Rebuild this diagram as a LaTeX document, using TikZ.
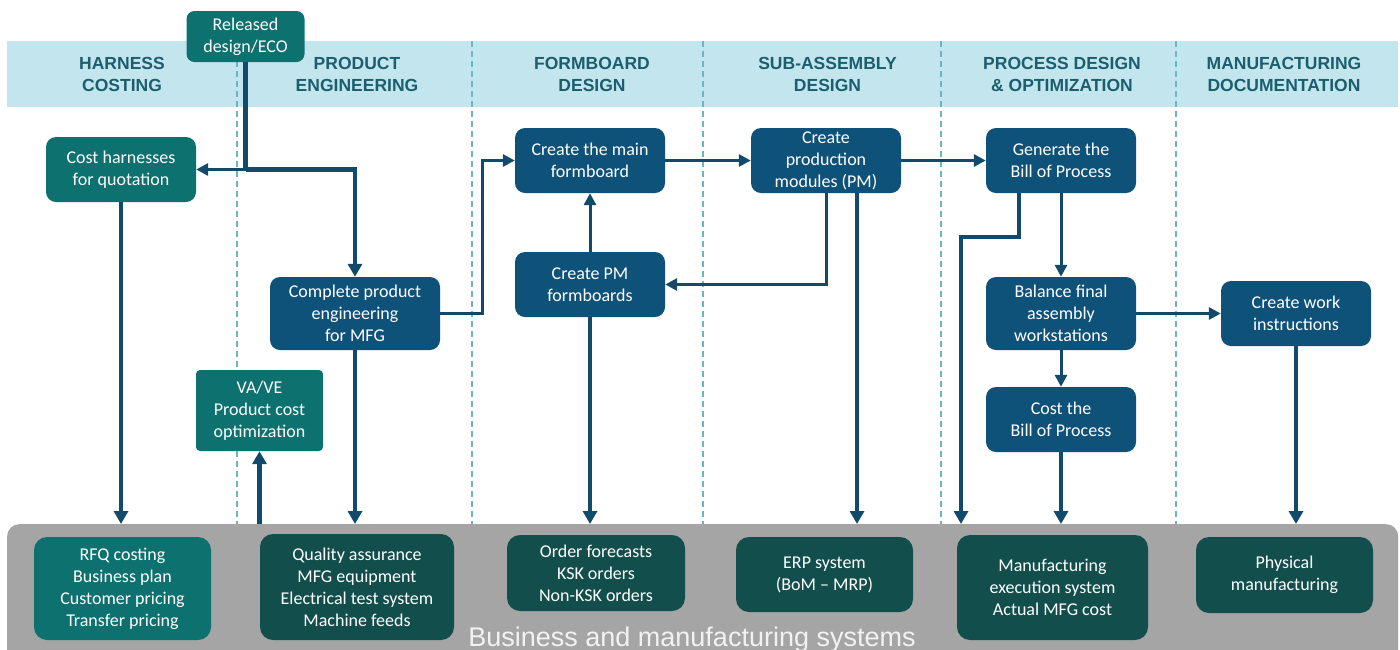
\documentclass[tikz,border=0pt]{standalone}
\usepackage{fontspec}
\setmainfont{Carlito}
\newfontfamily\hfont{Liberation Sans}
\usetikzlibrary{arrows.meta,calc}
\definecolor{bluebox}{HTML}{0E5179}
\definecolor{tealbox}{HTML}{0C716F}
\definecolor{darkbox}{HTML}{124E4C}
\definecolor{arrowc}{HTML}{114A6B}
\definecolor{bandc}{HTML}{C3E6EE}
\definecolor{hdrtext}{HTML}{1B5F6E}
\definecolor{barc}{HTML}{A5A5A5}
\definecolor{dashc}{HTML}{6BB7BF}
\begin{document}
\begin{tikzpicture}[x=1pt,y=-1pt,
  box/.style={rounded corners=10pt, text=white, align=center, inner sep=0pt,
    font=\fontsize{18}{22}\selectfont},
  bluen/.style={box, fill=bluebox, minimum width=150pt, minimum height=65pt},
  tealn/.style={box, fill=tealbox},
  darkn/.style={box, fill=darkbox, rounded corners=13pt},
  hdr/.style={font=\hfont\bfseries\fontsize{17.5}{22}\selectfont, text=hdrtext, align=center},
  lane/.style={draw=dashc, line width=1.2pt, dash pattern=on 6pt off 4pt},
  conn/.style={draw=arrowc, line width=3pt, -{Triangle[length=12pt,width=12pt]}},
  connk/.style={draw=arrowc, line width=4.2pt, -{Triangle[length=13pt,width=14pt]}}
]
\useasboundingbox (0,0) rectangle (1400,649);
% header band
\fill[bandc] (7,41) rectangle (1398,107);
% lanes
\foreach \x in {237,472,703,941,1176}{\draw[lane] (\x,41) -- (\x,524);}
% header labels
\node[hdr] (h1) at (122,74) {HARNESS\\COSTING};
\node[hdr] (h2) at (357,74) {PRODUCT\\ENGINEERING};
\node[hdr] (h3) at (592,74) {FORMBOARD\\DESIGN};
\node[hdr] (h4) at (827.5,74) {SUB-ASSEMBLY\\DESIGN};
\node[hdr] (h5) at (1062,74) {PROCESS DESIGN\\\& OPTIMIZATION};
\node[hdr] (h6) at (1284,74) {MANUFACTURING\\DOCUMENTATION};
% bottom bar
\node[fill=barc, rounded corners=12pt, minimum width=1391pt, minimum height=150pt,
  anchor=north west, inner sep=0pt] (bar) at (7,524) {};
\node[anchor=base, text=white!95!black, font=\hfont\fontsize{27}{30}\selectfont] (barlbl) at (692,646)
  {Business and manufacturing systems};
% process nodes
\node[tealn, rounded corners=8pt, minimum width=118pt, minimum height=51pt] (rel) at (245.5,36.5) {Released\\design/ECO};
\node[tealn, minimum width=150pt, minimum height=65pt] (cost) at (121,169.5) {Cost harnesses\\for quotation};
\node[bluen, minimum width=170pt, minimum height=73pt] (cpe) at (355,313.5) {Complete product\\engineering\\for MFG};
\node[tealn, rounded corners=4pt, minimum width=127pt, minimum height=81pt] (vave) at (259.5,410.5) {VA/VE\\Product cost\\optimization};
\node[bluen] (mainfb) at (590,160.5) {Create the main\\formboard};
\node[bluen] (pmfb) at (590,284.5) {Create PM\\formboards};
\node[bluen] (pm) at (826,160.5) {Create\\production\\modules (PM)};
\node[bluen] (gen) at (1061,160.5) {Generate the\\Bill of Process};
\node[bluen, minimum height=73pt] (bal) at (1061,313.5) {Balance final\\assembly\\workstations};
\node[bluen] (costbop) at (1061,419.5) {Cost the\\Bill of Process};
\node[bluen] (wi) at (1296,313.5) {Create work\\instructions};
% system nodes
\node[tealn, rounded corners=13pt, minimum width=177pt, minimum height=103pt] (rfq) at (122.5,588.5) {RFQ costing\\Business plan\\Customer pricing\\Transfer pricing};
\node[darkn, minimum width=194pt, minimum height=106pt] (qa) at (357,587) {Quality assurance\\MFG equipment\\Electrical test system\\Machine feeds};
\node[darkn, minimum width=178pt, minimum height=76pt] (ord) at (596,573) {Order forecasts\\KSK orders\\Non-KSK orders};
\node[darkn, minimum width=177pt, minimum height=75pt] (erp) at (824.5,574.5) {ERP system\\(BoM -- MRP)};
\node[darkn, minimum width=191pt, minimum height=105pt] (mes) at (1052.5,587.5) {Manufacturing\\execution system\\Actual MFG cost};
\node[darkn, minimum width=177pt, minimum height=76pt] (phys) at (1284.5,575) {Physical\\manufacturing};
% connectors
\coordinate (j1) at (rel.south |- cost.east);
\draw[connk,-] (rel.south) -- (j1);
\draw[conn] (j1) -- (cost.east);
\draw[connk] (j1) -| (cpe.north);
\draw[connk] (cost.south) -- (cost.south |- bar.north);
\draw[connk] (cpe.south) -- (cpe.south |- bar.north);
\draw[connk] (vave.south |- bar.north) -- (vave.south);
\coordinate (k1) at (482,313.5);
\draw[conn] (cpe.east) -- (k1) |- (mainfb.west);
\draw[conn] (mainfb.east) -- (pm.west);
\draw[conn] (pm.east) -- (gen.west);
\draw[conn] (pm.south) |- (pmfb.east);
\coordinate (pmR) at ([xshift=31pt]pm.south);
\draw[connk] (pmR) -- (pmR |- bar.north);
\draw[conn] (pmfb.north) -- (mainfb.south);
\draw[connk] (pmfb.south) -- (pmfb.south |- bar.north);
\coordinate (gL) at ([xshift=-42pt]gen.south);
\coordinate (g1) at (961,237);
\draw[connk] (gL) |- (g1) -- (g1 |- bar.north);
\draw[conn] (gen.south) -- (bal.north);
\draw[conn] (bal.south) -- (costbop.north);
\draw[connk] (costbop.south) -- (costbop.south |- bar.north);
\draw[conn] (bal.east) -- (wi.west);
\draw[connk] (wi.south) -- (wi.south |- bar.north);
\end{tikzpicture}
\end{document}
